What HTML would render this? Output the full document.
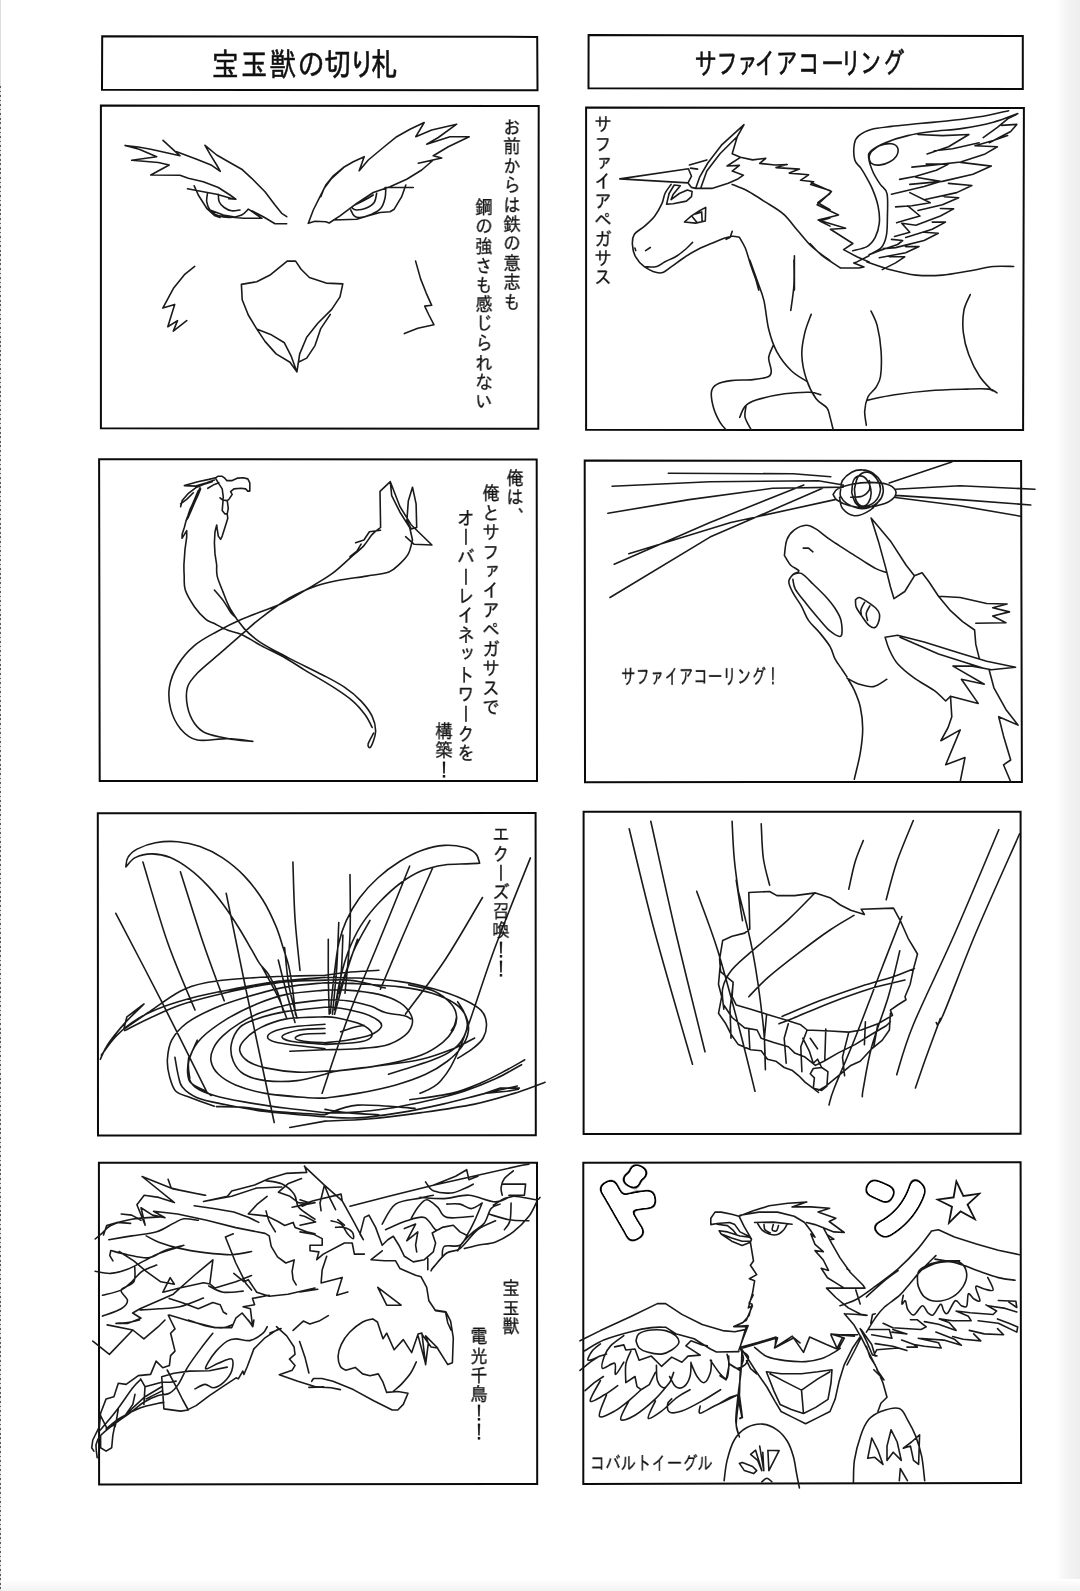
<!DOCTYPE html>
<html lang="ja">
<head>
<meta charset="utf-8">
<title>宝玉獣の切り札 / サファイアコーリング</title>
<style>
html,body{margin:0;padding:0;background:#fff;}
body{width:1080px;height:1591px;position:relative;overflow:hidden;font-family:"Liberation Sans","IPAGothic","Noto Sans CJK JP",sans-serif;color:#111;}
#page{position:absolute;left:0;top:0;width:1080px;height:1591px;}
svg{position:absolute;left:0;top:0;will-change:transform;}
.frames polygon{fill:none;stroke:#0a0a0a;stroke-width:2;stroke-linejoin:miter;}
.art path{fill:none;stroke:#1a1a1a;stroke-width:1.6;stroke-linecap:round;stroke-linejoin:round;}
.v{position:absolute;writing-mode:vertical-rl;text-orientation:upright;white-space:nowrap;font-size:18px;line-height:20px;width:20px;letter-spacing:0.1px;color:#151515;margin:0;transform:scale(0.96,1.06);transform-origin:50% 0;-webkit-text-stroke:0.3px #151515;will-change:transform;}
.h{position:absolute;white-space:nowrap;font-size:19px;line-height:20px;color:#151515;margin:0;transform-origin:0 0;-webkit-text-stroke:0.3px #151515;will-change:transform;}
.ttl{font-family:"Liberation Sans","IPAGothic","Noto Sans CJK JP",sans-serif;fill:#111;stroke:#111;stroke-width:.55;}
.sfx .s{fill:#111;}
.edge{position:absolute;left:0;top:86px;width:1.3px;height:1505px;background:repeating-linear-gradient(180deg,#5a5a5a 0,#5a5a5a 1.7px,#e2e2e2 1.7px,#e2e2e2 4.55px);}
.edgeT{position:absolute;left:0;top:0;width:1.3px;height:86px;background:#dcdcdc;}
.edgeB{position:absolute;left:0;bottom:0;width:1080px;height:12px;background:linear-gradient(180deg,#fff,#f3f3f3);}
.edgeR{position:absolute;right:0;top:0;width:24px;height:1591px;background:linear-gradient(90deg,#fff,#f4f4f4 45%,#eee);}
</style>
</head>
<body>
<div id="page">
<div class="edgeR"></div><div class="edgeB"></div><div class="edgeT"></div><div class="edge"></div>
<svg width="1080" height="1591" viewBox="0 0 1080 1591">
<g class="frames"><polygon points="102.2,36.3 537.2,36.9 537.5,90.2 102,89.8"/><polygon points="588.6,35 1022.8,36.1 1022.8,89.1 588.5,88.3"/><polygon points="100.9,105.6 538.7,106.1 538.3,428.7 100.9,428.3"/><polygon points="586.1,107.4 1023.9,108.1 1023.1,430 586.1,429.8"/><polygon points="99.1,459.2 536.7,459.4 537,781.1 99.7,781.1"/><polygon points="584.7,460.6 1021.1,460.9 1021.9,782 585,782.2"/><polygon points="97.8,813.3 535.6,813 535.8,1135.2 98,1135.6"/><polygon points="583.6,811.7 1020.6,811.7 1020.6,1133.7 583.6,1134.1"/><polygon points="98.9,1162.8 537,1162.8 537.2,1484.1 99.1,1484.4"/><polygon points="583.3,1162.8 1020.6,1162.2 1021.1,1483.1 583.3,1483.9"/></g>
<g class="art"><path d="M163 140.3L180 155.8L150.8 149.2L138.3 147L125 145.5L139.2 149.2L156.7 156.7L131.7 160.3L158.3 162.5L169.2 165L150.8 175L180 175.3L188.3 178.3L203.3 181.7L218.3 187.5L230 195L235.8 199.2L228.7 198.8M176.7 151.7L196.7 159.2L211.7 165.3L220.3 171.3L216.7 165L210 154.2L205 145.3L216.7 155L226.7 160.8L241.7 169.2L251.7 178.3L265 191.7L275 205L281.7 213.3L286.7 216.7M187.5 188.8L203.3 191.7L216.7 194.2L234.2 199.2M194.2 185.8L198.3 195L206.7 208.3L215 215.8L220 217.5M215 215.3L226.7 216.7L243.3 218.3L262 218.3L249.2 209.7M251.7 210.8L263.3 216.7L275 223.7L286.7 223.7M207.5 193.3C207.4 194.7 206.3 198.9 206.7 201.7C207.1 204.4 208.1 207.6 210 210C211.9 212.4 215 214.6 218.3 215.8C221.7 217.1 226.1 217.6 230 217.5C233.9 217.4 238.6 216.4 241.7 215C244.7 213.6 247.2 210.1 248.3 209.2M218.3 194.2C218.5 195.4 218.2 199.4 219.2 201.7C220.1 203.9 222.1 206 224.2 207.5C226.3 209 229 210.4 231.7 210.8C234.3 211.2 238.6 210.1 240 210M210 210L223.3 215L233.3 216.7M308.3 223.3L313.3 210L320 196.7L325.8 185L333.3 175.8L343.3 167.5L353.3 161.7L364.2 156.7L359.2 170.8L368.3 160L383.3 147.5L396.7 136.7L410 129.2L424.2 122.5L415.8 136.7L431.7 130L456.7 124.2L438.3 137.5L426.7 144.2L450 136.7L469.2 136.7L448.3 146.7L433.3 155.8L441.7 158L418.3 163.3L433.3 160L421.7 170L406.7 179.2L390 186.7L373.3 192.5L356.7 203.3L340 215.8L329.2 223L325.8 221.7L315 221.3L308.3 223.3M343.3 168L331.7 178.3L324.2 188.3L320.8 196.7M385 187.5L413.3 187.5M385.8 188.3C385.7 190 385.8 195 385 198.3C384.2 201.7 383.1 205.7 380.8 208.3C378.6 211 375.1 212.6 371.7 214.2C368.2 215.7 362.9 217.2 360 217.5C357.1 217.8 355.7 217.1 354.2 215.8C352.6 214.6 351.4 211 350.8 210M405.8 185L401.7 196.7L394.2 209.2L390 211.7L380 212.5L368.3 215.8L356.7 219.2L333.3 220M376.7 193.3C376.2 194.9 376 200 374.2 202.5C372.4 205 368.8 207.1 365.8 208.3C362.9 209.6 358.9 210 356.7 210C354.4 210 353.1 209 352.5 208.3C351.9 207.6 351.5 207.1 353.3 205.8C355.1 204.6 360 202.6 363.3 200.8C366.7 199 371.7 196 373.3 195M194.7 266.4L184.4 274.7L173.3 288.6L162.8 308.1L174.7 304.4L167.8 326.7L177.5 320.6L173.3 331.1L186.7 320.6M241.4 284.4L256.7 281.7L270.6 274.7L278.9 267.8L287.2 261.1L295.6 261.1L301.1 269.2L309.4 277.5L326.1 283.1L342.8 283.9L340 296.9L331.7 309.4L317.8 323.3L306.7 337.2L299.7 353.9L296.9 371.9L291.4 356.7L284.4 342.8L270.6 334.4L256.7 328.9L248.3 315L242.2 299.7L241.4 284.4M256.7 328.9L265 341.4L276.1 353.9L290 362.2L296.9 371.9M330.3 314.4L320.6 328.9L315 345.6L306.7 358.1L298.3 362.2M415.6 261.1L420.6 278.9L426.1 292.8L431.7 305.3L424.7 306.1L428.9 315L433.9 324.7L417.8 328.3L404.4 333.6M688 182.9L619.8 178.9L688.4 168.7L691.5 176.2L688 182.9L691.5 187.4L695.6 188.4M689.4 165L706.8 159.9M690.5 168.1L697.6 169.1M695.6 188.4L699.6 177.2L707.8 163L722 144.6L744 124.7L737.3 136.5L732.2 153.8L740.4 157.3L727.1 166L739.4 165.4L732.2 171.1L743.4 175.2L737.3 179.3L728.2 183.3L711.9 188.4L695.6 188.4M737.3 136.5L720 153.8L706.8 171.1L700.6 188.4M740.4 157.3L752.6 159.9L765.8 158.3L759.7 163.4L775 165L787.2 164.6L776 167.6L799.4 169.1L789.3 173.1L808.6 174.8L800.5 180.3L813.7 181.7L810.7 184.4L830 190.5M732.2 184.4C734.9 185.5 743.1 188.6 748.5 191.5C754 194.4 759 197.9 764.8 201.7C770.6 205.4 777.7 209.1 783.2 213.9C788.6 218.6 792.7 224.8 797.4 230.2C802.2 235.6 806.2 241.4 811.7 246.5C817.1 251.6 826.9 258.4 830 260.7M671.1 184.4C670.1 185.9 666.5 190.3 665 193.5C663.5 196.7 663.6 200 661.9 203.7C660.2 207.4 657.7 212.2 654.8 215.9C651.9 219.7 648 223.1 644.6 226.1C641.2 229.2 636.5 231.2 634.4 234.3C632.4 237.3 632.2 240.7 632.4 244.4C632.6 248.2 633.4 252.9 635.5 256.7C637.5 260.4 640.6 264.1 644.6 266.9C648.7 269.6 655.5 273 659.9 273C664.3 273 666.9 269.6 671.1 266.9C675.4 264.1 680.6 259.7 685.4 256.7C690.1 253.6 694.9 250.9 699.6 248.5C704.4 246.1 709.8 244.1 713.9 242.4C718 240.7 721 239.4 724.1 238.3C727.1 237.3 729.7 236.5 732.2 236.3C734.8 236.1 738.2 237.1 739.4 237.3M666.6 204.1L669.1 193.5L674.2 185L680.3 185.8L673.1 194.5L671.1 199.6L679.3 193.5L687.4 190.1L692.1 191.5L691.5 196.6L686.4 201.1L673.1 203.7L666.6 204.1M684.4 222L691.5 215.9L699.6 210.8L705.7 207.4L705.3 221L695.6 223.1L684.4 222M692.5 216.9L696.6 222M695.6 213.9L701.7 211.9L702.1 221M645.6 266.9C647.5 266.8 653.6 267.3 656.9 266.4C660.1 265.6 661.6 263.6 665 261.8C668.4 260 673.7 257.9 677.2 255.7C680.8 253.4 683.8 250.7 686.4 248.5C688.9 246.3 691.5 243.4 692.5 242.4M645.6 250.6L650.3 247.5M634.9 248.1L635.7 250.6M732.2 231.2L730.2 237.3L726.1 239.4M739.4 237.3C740.4 239.2 743.6 243.9 745.5 248.5C747.3 253.1 748.9 259.7 750.6 264.8C752.3 269.9 754.3 274.9 755.7 279.1C757 283.3 758.2 288.2 758.7 290.1M794.4 255.7L794.4 290.1M830 193.5L817.8 202.7L830 209.8M830 218L819.8 221L830 226.1M1008.6 110.7C1004.4 111.6 992.5 114.6 983.2 116.2C973.8 117.8 962.8 119.1 952.6 120.3C942.4 121.5 932.2 122.3 922 123.3C911.9 124.4 900 125.4 891.5 126.4C883 127.4 876.5 127.9 871.1 129.4C865.7 131 861.7 133.2 858.9 135.6C856.1 137.9 855.1 139.6 854.4 143.7C853.7 147.8 853.7 155.9 854.8 160C855.9 164.1 858.9 165.1 860.9 168.1C863 171.2 865 174.6 867 178.3C869.1 182.1 871.3 185.8 873.1 190.6C875 195.3 877.2 201.4 878.2 206.9C879.3 212.3 879.8 218.1 879.3 223.2C878.8 228.2 877.2 233.5 875.2 237.4C873.1 241.3 870.8 244.4 867 246.6C863.3 248.8 855.2 250 852.8 250.7M1017.8 113.6C1013.7 115 1002.5 119.8 993.3 122.3C984.2 124.8 973 126.9 962.8 128.4C952.6 130 941.4 130.3 932.2 131.5C923.1 132.7 915.6 133.7 907.8 135.6C900 137.4 891.5 140.1 885.4 142.7C879.3 145.2 873.9 148.3 871.1 150.8C868.3 153.4 868.3 154.4 868.7 158C869 161.5 871.2 167.8 873.1 172.2C875.1 176.6 878 180.9 880.3 184.4C882.6 188 885.8 188.2 887 193.6C888.2 199 887.5 210.1 887.4 217C887.3 224 887.4 230.3 886.4 235.4C885.4 240.5 884.2 244.4 881.3 247.6C878.4 250.8 871.1 253.5 869.1 254.7M871.1 151.9C872.5 150.8 875.9 147.1 879.3 145.7C882.7 144.4 888.4 143.4 891.5 143.7C894.5 144 896.7 145.7 897.6 147.8C898.4 149.8 897.9 153.6 896.6 155.9C895.2 158.3 892.3 160.5 889.4 162C886.6 163.6 882.3 164.9 879.3 165.1C876.2 165.3 872.8 164.4 871.1 163.1C869.4 161.7 869.1 158.8 869.1 156.9C869.1 155.1 870.8 152.7 871.1 151.9M918 134.5L942.4 135.6L968.9 134.5L948.5 146.8L927.1 153.9M983.2 137.6L997.4 127.4L1008.6 118.2L1016.8 114.2M1001.5 125.4L1016.8 124.4L1010.7 131.5L989.3 142.7M1007.6 135.6L993.3 140.6L975 145.7L997.4 146.8L985.2 153.9L960.7 162L932.2 165.1L911.9 167.1M934.3 150.8L952.6 148.8L979.1 142.7M960.7 162.4L991.3 166.1L973 174.3L942.4 181.4L909.8 184.4M926.1 164.1L948.5 164.1L936.3 170.2L915.9 176.3L899.6 179.4M915.9 177.3L940.4 181.4L924.1 186.5L891.5 194.2M948.5 183.4L971.9 185.5L956.7 192.6L924.1 199.7M909.8 192.6L930.2 202.8L911.9 205.8L895.6 206.9M944.4 196.7L958.7 197.7L942.4 204.8L918 210.5M907.8 205.8L920 216L905.7 220.1L896.6 222.7M940.4 208.5L953.6 208.9L940.4 216L915.9 225.2L901.7 223.2L909.8 232.3L894.5 236.4M932.2 222.1L945.5 222.1L932.2 229.3L905.7 237.4M924.1 232.3L938.3 233.3L924.1 240.5L895.6 247.6L883.3 248.6M891.5 239.4L902.7 240.5L897.6 244.5L879.3 250.7L869.1 254.7M905.7 246.6L919 246.6L905.7 252.7L879.3 257.8M889.4 256.8L904.7 256.8L895.6 262.9L882.3 269.6M869.1 255.7L856.9 261.9L853.8 262.9L864 266.9L858.9 268L840.6 268M810 181.4L813.1 183.4L831.4 191.6L817.1 204.8L838.5 215L818.1 220.1L845.6 228.2L830.4 229.3L852.8 243.5L843.6 249.6L856.9 256.8L869.1 261.9M810 243.5C812 245.6 817.1 251.7 822.2 255.7C827.3 259.8 837.5 265.9 840.6 268M867 261.9C871.1 263.2 883.3 267.8 891.5 270C899.6 272.2 907.4 274.2 915.9 275.1C924.4 275.9 933.6 275.8 942.4 275.1C951.2 274.4 960.4 272.4 968.9 271C977.4 269.6 985.9 267.3 993.3 266.5C1000.8 265.8 1010.3 266.5 1013.7 266.5M749.8 260C751.1 263.7 755.3 275.2 757.7 282C760.1 288.9 762.2 293.1 764 300.9C765.8 308.8 766.6 320.9 768.7 329.3C770.8 337.7 772.9 344.5 776.6 351.3C780.3 358.1 785.8 365.2 790.8 370.2C795.7 375.2 803.9 379.4 806.5 381.2M793.9 260C793.9 264.2 794.4 276.8 793.9 285.2C793.4 293.6 791.3 306.2 790.8 310.4M811.2 314.2C810.2 317.2 806.5 325.7 804.9 332.4C803.4 339.1 801.5 346.6 801.8 354.5C802 362.3 804.1 372.3 806.5 379.6C808.9 387 812.5 393.8 815.9 398.5C819.4 403.3 824.6 404.8 827 408C829.3 411.1 829.1 413.8 830.1 417.4C831.2 421.1 832.7 427.9 833.3 430M871 311C872.1 313.5 875.7 319.4 877.3 326.1C879 332.8 880.6 342.9 881.1 351.3C881.6 359.7 881.4 370.5 880.5 376.5C879.6 382.5 877.9 384.1 875.8 387.5C873.7 390.9 869.7 393 867.9 397C866.1 400.9 865 406.4 864.7 411.1C864.5 415.9 866.1 422.9 866.3 425.3M867.9 400.1C872.4 399.2 884.4 396.3 894.7 394.8C904.9 393.2 917.2 391.6 929.3 390.7C941.4 389.7 957.1 389.4 967.1 389.1C977 388.8 984.1 388.5 989.1 389.1C994.1 389.7 995.7 392.2 997 392.9M970.2 294.6C969.2 297.3 965.1 304.1 963.9 310.4C962.8 316.7 962.5 325.1 963.3 332.4C964.1 339.8 965.9 347.1 968.7 354.5C971.4 361.8 975.7 370.5 979.7 376.5C983.6 382.5 990.2 388.3 992.3 390.7M773.4 345C772.7 347.1 769.1 353.4 768.7 357.6C768.3 361.8 771.2 367.1 771.2 370.2C771.2 373.4 771.8 374.9 768.7 376.5C765.7 378.1 759.3 379 753 379.6C746.7 380.3 737 379.8 730.9 380.6C724.9 381.4 720 382.4 716.8 384.4C713.5 386.3 711.9 388.3 711.4 392.2C710.9 396.2 712.2 403 713.6 408C715 413 717.8 418.5 719.9 422.2C722 425.8 725.2 428.7 726.2 430M820.7 394.8C818.8 394.3 815.7 392.4 809.6 392.2C803.6 392.1 793.4 392.5 784.5 393.8C775.5 395.1 762.7 398 756.1 400.1C749.6 402.2 747.8 403.5 745.1 406.4C742.4 409.3 740.6 415.6 739.7 417.4M746 406.4C745.9 408.2 744.2 413.5 745.1 417.4C746 421.4 750.3 427.9 751.4 430M216.7 565C216.8 566.9 216.2 571.7 217.2 576.1C218.2 580.5 220.6 585.8 222.8 591.4C225 596.9 226.9 603.2 230.6 609.4C234.2 615.7 239.4 623.3 244.4 628.9C249.5 634.4 253.7 637.9 261.1 642.8C268.5 647.6 278.7 652.7 288.9 658.1C299.1 663.4 313 669.9 322.2 674.7C331.5 679.6 338 682.8 344.4 687.2C350.9 691.6 356.5 696.2 361.1 701.1C365.7 706 369.8 711.3 372.2 716.4C374.6 721.5 375.8 726.6 375.6 731.7C375.3 736.8 372.1 744.9 370.8 746.9C369.6 749 367.6 746.5 368.1 744.2C368.5 741.9 372.7 734.9 373.6 733.1M183.9 565C183.9 566.9 183.9 571.9 184.2 576.1C184.4 580.3 183.6 584.9 185.3 590C187 595.1 191.1 601.8 194.4 606.7C197.8 611.5 202.3 616.4 205.6 619.2C208.8 621.9 210.2 621.5 213.9 623.3C217.6 625.2 223.1 628.4 227.8 630.3C232.4 632.1 236.1 631.9 241.7 634.4C247.2 637 254.2 641.9 261.1 645.6C268.1 649.3 275.9 652.5 283.3 656.7C290.7 660.8 297.2 665.5 305.6 670.6C313.9 675.6 325.5 682.1 333.3 687.2C341.2 692.3 347.5 696.5 352.8 701.1C358.1 705.7 362 710.6 365.3 715C368.5 719.4 371.1 725.4 372.2 727.5M214.4 590C216 591.9 220.9 597.4 223.6 601.1C226.3 604.8 228.5 609.4 230.6 612.2C232.6 615 235.2 616.9 236.1 617.8M252.8 741.4C248.6 740.9 237 738.8 227.8 738.6C218.5 738.4 205.1 741.6 197.2 740C189.4 738.4 185 734 180.6 728.9C176.2 723.8 172.7 716.4 170.8 709.4C169 702.5 168.3 694.6 169.4 687.2C170.6 679.8 173.6 671.9 177.8 665C181.9 658.1 188 651.1 194.4 645.6C200.9 640 208.8 636.1 216.7 631.7C224.5 627.3 231 623.8 241.7 619.2C252.3 614.5 269.9 608.8 280.6 603.9C291.2 599 297.2 594.9 305.6 590C313.9 585.1 323.1 580 330.6 574.7C338 569.4 344.4 562.9 350 558.1C355.6 553.2 360.2 549.5 363.9 545.6C367.6 541.6 369.4 537.5 372.2 534.4C375 531.4 379.2 528.7 380.6 527.5M380.6 527.5L380 491.4L390.3 481.7L391.7 495.6L400 512.2L409.7 527.5L412.5 540M412.5 540C411.8 542.3 410.4 550 408.3 553.9C406.2 557.8 403.2 560.6 400 563.6C396.8 566.6 394.4 569.9 388.9 571.9C383.3 574 375 574.7 366.7 576.1C358.3 577.5 347.2 578.7 338.9 580.3C330.6 581.9 325 582.8 316.7 585.8C308.3 588.8 298.1 593 288.9 598.3C279.6 603.7 269 611.8 261.1 617.8C253.2 623.8 248.6 628.4 241.7 634.4C234.7 640.5 226.9 647.4 219.4 653.9C212 660.4 202.5 667.8 197.2 673.3C191.9 678.9 189.1 681.7 187.5 687.2C185.9 692.8 186.3 700.6 187.5 706.7C188.7 712.7 191.4 718.9 194.4 723.3C197.5 727.7 200 730.5 205.6 733.1C211.1 735.6 219.9 737.2 227.8 738.6C235.6 740 248.6 740.9 252.8 741.4M355.6 542.8L363.9 540L369.4 531.7L380.6 530.3M350 556.7L356.9 551.1L361.1 544.2M390.3 481.7L400 506.7L411.1 524.7L431.9 545L413.9 544.2L405.6 536.7M412.5 487.2L408.3 501.1L406.9 520.6L411.1 528.9L416.7 527.5L416.1 503.9L412.5 487.2M668.3 473.3L793.3 473.8L830.8 476.7M612.1 486.2L710 481.7L818.3 480.8L843.3 485M607.9 513.3L689.2 499.6L772.5 488.3L843.3 487.1M614.2 564.2L710 522.5L803.8 485M628.8 553.8L730.8 522.5L835 499.6M610 597.5L710 537.1L822.5 488.3M889.2 482.9L951.7 462.1M895.4 489.2L960 485.8L1035 489.2M895.4 495.4L960 499.6L1030.8 505M895.4 497.5L960 505.8L1020.4 516.2M840.6 489.8C840.9 488.2 840.6 483.5 842.4 480.5C844.3 477.6 848.4 474 851.7 472.2C854.9 470.4 858.3 469.7 861.9 469.9C865.4 470 869.7 471 873 473.1C876.2 475.2 879.6 479.1 881.3 482.4C883 485.6 883.6 489.3 883.1 492.6C882.7 495.8 880.8 499.3 878.5 501.8C876.2 504.3 872.7 506.3 869.3 507.4C865.9 508.5 861.9 508.9 858.1 508.3C854.4 507.7 850 505.7 847 503.7C844.1 501.7 841.6 498.6 840.6 496.3C839.5 493.9 840.6 490.9 840.6 489.8M833.1 494.4C833.9 493.5 834.7 490.5 837.8 488.9C840.9 487.2 846.3 485.3 851.7 484.2C857.1 483.1 864.3 482.4 870.2 482.4C876 482.4 882.7 483 886.9 484.2C891 485.5 894 487.6 895.2 489.8C896.4 491.9 896.1 494.9 894.3 497.2C892.4 499.5 888.9 502 884.1 503.7C879.3 505.4 871.4 507.1 865.6 507.4C859.7 507.7 853.7 506.8 848.9 505.5C844.1 504.3 839.5 501.8 836.9 500C834.2 498.1 833.8 495.3 833.1 494.4M851.7 492.6C852 490.5 852.1 483.3 853.5 480.5C854.9 477.7 857.7 475.9 860 475.9C862.3 475.9 865.6 477.7 867.4 480.5C869.3 483.3 871 488.9 871.1 492.6C871.3 496.3 869.9 500.4 868.3 502.7C866.8 505.1 864 506.4 861.9 506.4C859.7 506.4 857.1 505.1 855.4 502.7C853.7 500.4 852.3 494.3 851.7 492.6M854.4 488.9C855.1 486.8 856 479.6 858.1 476.8C860.3 474 864.3 471.9 867.4 472.2C870.5 472.5 874.5 475.7 876.7 478.7C878.8 481.6 880.7 485.9 880.4 489.8C880.1 493.6 877.6 499 874.8 501.8C872 504.6 866.8 506.6 863.7 506.4C860.6 506.3 857.8 503.8 856.3 500.9C854.8 498 854.8 490.9 854.4 488.9M839.6 497.2C840.1 499 839.9 505.2 842.4 508.3C844.9 511.4 849.8 515.4 854.4 515.7C859.1 516 865.9 512.9 870.2 510.1C874.5 507.4 878.7 500.9 880.4 499M850.7 497.2C852.6 497 858.8 497.5 861.9 496.3C864.9 495 868 492.4 869.3 489.8C870.5 487.2 869.3 482.1 869.3 480.5M784.4 555.4C784.8 552.8 785.2 543.9 786.9 539.7C788.5 535.5 790.9 532.5 794.1 530.1C797.3 527.7 802.5 525.5 806.1 525.3C809.7 525.1 811.7 526.5 815.7 528.9C819.8 531.3 825 536.1 830.2 539.7C835.4 543.3 841.4 546.9 847 550.6C852.7 554.2 859.1 558.4 863.9 561.4C868.7 564.4 872.3 566.8 875.9 568.6C879.5 570.4 883.9 571.6 885.6 572.2M784.4 555.4C785.4 557 788.1 562.4 790.5 565C792.9 567.6 798.5 569.4 798.9 571C799.3 572.6 794.6 572.8 792.9 574.6C791.2 576.4 788.8 578.8 788.8 581.8C788.8 584.9 790.8 588.7 792.9 592.7C795 596.7 798.7 601.3 801.3 605.9C803.9 610.5 805.5 616 808.5 620.4C811.5 624.8 815.7 628 819.4 632.4C823 636.8 827.6 642.4 830.2 646.8C832.8 651.3 833 655.1 835 658.9C837 662.7 840.2 666.7 842.2 669.7C844.2 672.7 846.2 675.7 847 676.9M792.9 574.6C794.3 574.4 797.9 571.8 801.3 573.4C804.7 575 809.3 580.4 813.3 584.3C817.3 588.1 821.8 592.3 825.4 596.3C829 600.3 832.4 604.3 835 608.3C837.6 612.3 840 615.8 841 620.4C842 625 842.8 634.2 841 636C839.2 637.8 834 634.2 830.2 631.2C826.4 628.2 822.2 622.6 818.1 618C814.1 613.3 809.9 608.3 806.1 603.5C802.3 598.7 797.5 593.1 795.3 589.1C793.1 585.1 793.3 581 792.9 579.4M803.2 548.1L808.5 548.1L812.9 551.8M871.1 518.1L878.3 540.9L885.6 567.4L890.4 586.7L894 598.7L904.8 591.5L914.4 575.8L906 565L890.4 540.9L871.1 518.1M914.4 575.8L922.1 572.7L928.9 581.8L938.5 596.3L950.5 610.7L962.6 621.6L974.6 630L975.8 644.4L979.4 658.9M855.5 599.9C856.1 599.5 857.3 597.3 859.1 597.5C860.9 597.7 863.5 599.3 866.3 601.1C869.1 602.9 873.7 606.1 875.9 608.3C878.1 610.5 879.1 611.9 879.5 614.3C879.9 616.8 879.1 620.6 878.3 622.8C877.5 625 876.3 627.2 874.7 627.6C873.1 628 870.9 627.2 868.7 625.2C866.5 623.2 863.6 618.6 861.5 615.6C859.4 612.5 857.2 609.7 856.2 607.1C855.2 604.5 855.6 601.1 855.5 599.9M864.6 602.3C864 603.5 861.5 607.3 861 609.5C860.5 611.7 861.4 614.5 861.5 615.6M869.9 605.9C869.3 607.1 866.7 610.7 866.3 613.1C865.9 615.6 867.3 619.2 867.5 620.4M885.1 637.2L897.6 635.3L924.1 642L962.6 654.1L986.7 661.3L1015.5 667.3L991.5 669.7L972.2 666.1L953 666.1M900 637.2L938.5 654.1L984.3 668.5M885.1 637.2C885.8 639.2 887.1 644.8 889.2 649.3C891.2 653.7 893.4 658.9 897.6 663.7C901.8 668.5 908.4 673.7 914.4 678.1C920.5 682.6 928.5 686.4 933.7 690.2C938.9 694 943.7 699.2 945.7 701M945.7 701L950.5 696.2M953 666.1L984.3 684.2L961.4 679.3L978.2 703.4L950.5 696.2L951.8 716.7L948.1 727.5L940.9 740.7L960.2 729.9L945.7 764.8L965 757.6L960.2 781.7M989.1 669.7L993.9 687.8L1005.9 709.4L1018 725.1L998.7 716.7L1003.5 735.9L1010.7 760L1003.5 764.8L1010.7 781.7M938.5 596.3L960.2 597.5L986.7 603.5L1007.1 604L992.7 607.8L1009.5 611.9L992.7 616L1005.9 622.8L975.8 623.3M848.2 679.3C849.2 681.2 852.3 685.6 854.3 690.2C856.3 694.8 858.9 700.6 860.3 707C861.7 713.4 862.7 721.1 862.7 728.7C862.7 736.3 861.7 744.3 860.3 752.8C858.9 761.2 855.3 774.8 854.3 779.2M847 678.1C849 679.1 854.7 682.8 859.1 684.2C863.5 685.6 868.9 687.4 873.5 686.6C878.1 685.8 884.5 680.5 886.8 679.3M115.8 913.3C123.5 928.1 146.4 971.7 161.7 1001.7C176.9 1031.7 199.9 1078.1 207.5 1093.3M142.9 862.1C147.1 875.6 159.2 918.7 167.9 943.3C176.6 968 190.5 998.9 195 1010M180.4 871.7C184.2 883.6 196 921.8 203.3 943.3C210.6 964.9 220.7 991.2 224.2 1000.8M226.2 893.3C229.4 908.6 237 946.8 245 985C253 1023.2 269.3 1099.6 274.2 1122.5M292.9 862.1C293.3 871.5 293.8 900.3 295 918.3C296.2 936.4 299.2 961.7 300 970.4M350 874.6C350 884.7 350.8 915.2 350 935C349.2 954.8 345.8 983.6 345 993.3M409.6 866.2C404.4 879.1 388.4 918.7 378.3 943.3C368.3 968 358.5 989.2 349.2 1014.2C339.8 1039.2 326.6 1080.1 322.1 1093.3M432.5 868.3C427.6 879.4 412 914.9 403.3 935C394.7 955.1 384.2 980.1 380.4 989.2M482.5 897.5C476.2 907.9 457.8 940.6 445 960C432.2 979.4 412 1005.1 405.4 1014.2M530.4 857.9C524.5 872.8 506.5 916.6 495 947.5C483.5 978.4 470.7 1021.1 461.7 1043.3C452.6 1065.6 447.8 1072.5 440.8 1080.8C433.9 1089.2 423.5 1091.3 420 1093.3M284.6 947.5C285.3 953.8 286.7 973.2 288.8 985C290.8 996.8 295.7 1012.8 297.1 1018.3M278.3 960C279.7 965.6 283.9 982.9 286.7 993.3C289.4 1003.8 293.6 1017.6 295 1022.5M261.7 966.2C264.4 971.5 274.2 988.8 278.3 997.5C282.5 1006.2 285.3 1014.9 286.7 1018.3M328.3 939.2C328.3 945.4 328.2 964.2 328.3 976.7C328.5 989.2 329 1007.9 329.2 1014.2M338.8 922.5C338.4 930.1 337.7 953.1 336.7 968.3C335.6 983.6 333.2 1006.5 332.5 1014.2M357.5 939.2C355.4 945.4 348.8 964.2 345 976.7C341.2 989.2 336.3 1007.9 334.6 1014.2M370 920.4C367.2 925.6 358.5 939.5 353.3 951.7C348.1 963.8 341.2 986.4 338.8 993.3M342.9 935C342.6 941.9 342.2 964.2 340.8 976.7C339.4 989.2 335.6 1004.4 334.6 1010M100.3 1059.3C101.6 1056.9 103.7 1050.5 107.8 1044.4C111.9 1038.4 118.8 1029.9 124.8 1023.1C130.8 1016.4 140.8 1007.2 144 1004M144 1004L126.9 1016.8L123.7 1029.5M123.7 1029.5C127.8 1026.7 138.8 1018.9 148.2 1012.5C157.6 1006.1 170.6 996.2 180.2 991.2C189.8 986.2 195.1 984.8 205.7 982.7C216.4 980.6 230.6 979.5 244.1 978.4C257.5 977.4 273.2 976.8 286.7 976.3C300.1 975.8 318.6 975.4 325 975.2M101.4 1055.1C103.9 1051.9 110.3 1042 116.3 1035.9C122.3 1029.9 129.4 1023.9 137.6 1018.9C145.8 1013.9 155.3 1009.8 165.3 1006.1C175.2 1002.4 185.9 999.4 197.2 996.5C208.6 993.7 220.3 991.6 233.4 989.1C246.5 986.6 260.7 983.6 276 981.6C291.3 979.7 316.8 978.1 325 977.4M124.8 1030.6C129.4 1028.3 143.3 1021 152.5 1016.8C161.7 1012.5 169.9 1008.6 180.2 1005C190.5 1001.5 202.2 998.5 214.3 995.5C226.3 992.4 240.5 989.2 252.6 986.9C264.6 984.6 274.6 982.8 286.7 981.6C298.7 980.5 318.6 980.4 325 980.1M325 982.7C318.6 983.4 299.4 984.6 286.7 986.9C273.9 989.2 260.4 993 248.3 996.5C236.3 1000.1 224.5 1003.8 214.3 1008.2C204 1012.7 193.7 1017.8 186.6 1023.1C179.5 1028.5 174.9 1034.1 171.7 1040.2C168.5 1046.2 167.8 1053.3 167.4 1059.3C167 1065.4 168.1 1071.1 169.5 1076.4C171 1081.7 172.4 1087.7 175.9 1091.3C179.5 1094.8 184.4 1095.2 190.8 1097.7C197.2 1100.2 210.3 1104.8 214.3 1106.2M325 990.1C318.6 990.8 298 992.1 286.7 994.4C275.3 996.7 266.8 999.9 256.8 1004C246.9 1008.1 236.3 1013.2 227 1018.9C217.8 1024.6 207.7 1031.7 201.5 1038C195.3 1044.4 191.9 1050.8 189.8 1057.2C187.6 1063.6 187.8 1071.4 188.7 1076.4C189.6 1081.3 190.8 1083.8 195.1 1087C199.3 1090.2 206.1 1093.1 214.3 1095.5C222.4 1098 232 1099.8 244.1 1101.9C256.1 1104.1 273.2 1106.5 286.7 1108.3C300.1 1110.1 318.6 1111.9 325 1112.6M174.9 1057.2C175.4 1060.1 176.8 1069.3 178 1074.3C179.3 1079.2 179.1 1083.1 182.3 1087C185.5 1090.9 190.5 1094.8 197.2 1097.7C204 1100.5 211.4 1101.8 222.8 1104.1C234.1 1106.4 248.3 1109.4 265.4 1111.5C282.4 1113.6 315 1116 325 1116.8M325 999.7C319.3 1000.4 301.6 1001.8 290.9 1004C280.3 1006.1 269.6 1009.3 261.1 1012.5C252.6 1015.7 246.2 1019.2 239.8 1023.1C233.4 1027 227.2 1031.7 222.8 1035.9C218.3 1040.2 215.1 1044.4 213.2 1048.7C211.2 1053 210.2 1057.2 211.1 1061.5C211.9 1065.7 214.4 1070.3 218.5 1074.3C222.6 1078.2 227.7 1081.7 235.5 1084.9C243.4 1088.1 253.3 1091.3 265.4 1093.4C277.4 1095.5 298 1096.9 307.9 1097.7C317.9 1098.5 322.1 1098 325 1098.1M325 1007.2C318.6 1007.9 298 1009.5 286.7 1011.4C275.3 1013.4 264.6 1016.2 256.8 1018.9C249 1021.5 244.1 1023.1 239.8 1027.4C235.5 1031.7 232.4 1038.8 231.3 1044.4C230.2 1050.1 231.3 1056.5 233.4 1061.5C235.5 1066.4 238.7 1071.1 244.1 1074.3C249.4 1077.4 256.5 1079.6 265.4 1080.6C274.2 1081.7 287.4 1081.7 297.3 1080.6C307.2 1079.6 320.4 1075.3 325 1074.3M325 1016.8C318.6 1017.1 297.3 1017.1 286.7 1018.9C276 1020.7 268.2 1023.9 261.1 1027.4C254 1031 247.6 1036.3 244.1 1040.2C240.5 1044.1 239.1 1047.3 239.8 1050.8C240.5 1054.4 244.1 1058.6 248.3 1061.5C252.6 1064.3 257.2 1066.1 265.4 1067.9C273.5 1069.6 287.4 1071.6 297.3 1072.1C307.2 1072.7 320.4 1071.2 325 1071.1M325 1024.2C320.4 1024.6 305.5 1025.3 297.3 1026.3C289.1 1027.4 281 1028.8 276 1030.6C271 1032.4 267.5 1035 267.5 1037C267.5 1038.9 271 1040.9 276 1042.3C281 1043.7 289.1 1044.4 297.3 1045.5C305.5 1046.6 320.4 1048.2 325 1048.7M325 1028.5C320.7 1028.7 306.5 1028.7 299.4 1030C292.3 1031.2 283.8 1034 282.4 1035.9C281 1037.8 283.8 1039.8 290.9 1041.2C298 1042.7 319.3 1043.9 325 1044.4M325 1033.4C321.4 1033.5 308.7 1033.4 303.7 1034.2C298.7 1035 295.2 1036.9 295.2 1038C295.2 1039.2 298.7 1040.5 303.7 1041.2C308.7 1042 321.4 1042.5 325 1042.7M289.8 1051.3L325 1049.8M216.4 1106.6C221 1106.7 234.1 1106.4 244.1 1107.3C254 1108.1 262.5 1110.3 276 1111.5C289.5 1112.8 316.8 1114.2 325 1114.7M289.8 1127.5L325 1121.1M188.7 1057.2C188.5 1059.7 187.3 1067.9 187.6 1072.1C188 1076.4 187.8 1079.6 190.8 1082.8C193.8 1086 202.4 1089.2 205.7 1091.3C209.1 1093.4 210.2 1094.8 211.1 1095.5M197.2 1040.2C195.8 1043.7 189.9 1055.1 188.7 1061.5C187.5 1067.9 189.6 1075.7 189.8 1078.5M325 975.2C328.7 974.8 338 973.3 346.9 972.5C355.9 971.6 373.6 970.7 378.9 970.3M325 977.4C330.4 977.5 345.1 977.3 357.6 978C370.1 978.7 387.4 979.8 400.2 981.6C413 983.5 423.6 986.1 434.3 989.1C444.9 992.1 456.3 996.2 464.1 999.7C471.9 1003.3 477.4 1006.5 481.1 1010.4C484.8 1014.3 486.1 1018.5 486.4 1023.1C486.8 1027.8 485.5 1033.8 483.2 1038C480.9 1042.3 476.8 1045.3 472.6 1048.7C468.3 1052.1 460.2 1056.7 457.7 1058.3M325 980.1C329.7 980.2 343.3 979.2 353.3 980.6C363.4 981.9 379.9 986.8 385.3 988M325 982.7C330.4 982.9 345.1 983 357.6 983.7C370.1 984.5 387.8 985.3 400.2 986.9C412.6 988.5 422.9 990.5 432.1 993.3C441.3 996.2 449.9 1000.1 455.5 1004C461.2 1007.9 464.1 1012.1 466.2 1016.8C468.3 1021.4 469 1026.7 468.3 1031.7C467.6 1036.6 465.5 1041.6 461.9 1046.6C458.4 1051.5 453.1 1056.9 447 1061.5C441 1066.1 434.3 1070.3 425.7 1074.3C417.2 1078.2 407.3 1081.7 395.9 1084.9C384.6 1088.1 369.4 1091.2 357.6 1093.4C345.8 1095.6 330.4 1097.3 325 1098.1M325 990.1C328.7 990.1 338 989.4 346.9 990.1C355.9 990.8 370 992.3 378.9 994.4C387.8 996.5 394.9 999.5 400.2 1002.9C405.5 1006.3 408.9 1010.9 410.8 1014.6C412.8 1018.4 413 1021.7 411.9 1025.3C410.8 1028.8 408.9 1032.5 404.4 1035.9C400 1039.3 393.1 1043.4 385.3 1045.5C377.5 1047.6 367.6 1048 357.6 1048.7C347.5 1049.4 330.4 1049.6 325 1049.8M325 999.7C328.7 999.9 339.4 999.7 346.9 1000.8C354.5 1001.8 364 1004.2 370.4 1006.1C376.8 1008.1 379.6 1010.9 385.3 1012.5C391 1014.1 400.2 1014.6 404.4 1015.7C408.7 1016.8 409.8 1018.4 410.8 1018.9M325 1007.2C327.6 1007.3 334.1 1007.2 340.6 1008.2C347 1009.3 357.6 1011.4 364 1013.6C370.4 1015.7 376 1018.7 378.9 1021C381.7 1023.3 382.4 1025.1 381 1027.4C379.6 1029.7 376 1032.7 370.4 1034.9C364.7 1037 354.5 1038.9 346.9 1040.2C339.4 1041.5 328.7 1042.3 325 1042.7M325 1016.8C326.9 1016.9 330.9 1016.8 336.3 1017.8C341.7 1018.9 351.9 1021 357.6 1023.1C363.3 1025.3 368.2 1028.1 370.4 1030.6C372.5 1033.1 372.5 1036.1 370.4 1038C368.2 1040 365.1 1041.2 357.6 1042.3C350 1043.4 330.4 1044.1 325 1044.4M340.6 1031.7C342.7 1031 349.4 1028.5 353.3 1027.4C357.2 1026.3 362.2 1025.6 364 1025.3M408.7 984.8C413 985.9 427.2 988 434.3 991.2C441.3 994.4 447.6 999.7 451.3 1004C455 1008.2 456.3 1012.5 456.6 1016.8C457 1021 455.7 1025.3 453.4 1029.5C451.1 1033.8 448.1 1038 442.8 1042.3C437.4 1046.6 430.3 1051.5 421.5 1055.1C412.6 1058.6 402 1061.1 389.5 1063.6C377.1 1066.1 357.7 1068.7 346.9 1070C336.2 1071.2 328.7 1070.9 325 1071.1M457.7 1001.8C458.7 1003.6 462.5 1008.6 464.1 1012.5C465.7 1016.4 467.6 1020.7 467.3 1025.3C466.9 1029.9 464.6 1035.9 461.9 1040.2C459.3 1044.4 455.9 1047.6 451.3 1050.8C446.7 1054 441.3 1056.5 434.3 1059.3C427.2 1062.2 416.3 1065.4 408.7 1067.9C401.1 1070.3 391.8 1073.2 388.5 1074.3M474.7 1038C471.2 1039.8 462.3 1045.1 453.4 1048.7C444.5 1052.2 433.9 1056.5 421.5 1059.3C409.1 1062.2 393.1 1063.8 378.9 1065.7C364.7 1067.7 345.3 1069.6 336.3 1071.1C327.3 1072.5 326.9 1073.7 325 1074.3M456.6 1016.8C456.3 1018.2 455.4 1023 454.5 1025.3C453.6 1027.6 451.8 1029.7 451.3 1030.6M524.8 1059.8C521.7 1061.5 513.9 1066.2 506.7 1070C499.4 1073.8 490.3 1078.9 481.1 1082.8C471.9 1086.7 463.2 1090.6 451.3 1093.4C439.4 1096.3 416.7 1098.7 409.8 1099.8M521.6 1064.7C517.3 1067 505.6 1074.1 496 1078.5C486.4 1082.9 474.7 1087.7 464.1 1091.3C453.4 1094.8 444.5 1097 432.1 1099.8C419.7 1102.6 403.7 1106.2 389.5 1108.3C375.3 1110.5 357.7 1111.9 346.9 1112.6C336.2 1113.3 328.7 1112.6 325 1112.6M517.3 1086C512 1087.2 497.8 1090.4 485.4 1093.4C472.9 1096.4 457 1100.9 442.8 1104.1C428.6 1107.3 414.4 1110.3 400.2 1112.6C386 1114.9 370.1 1117.2 357.6 1117.9C345.1 1118.6 330.4 1117 325 1116.8M519.4 1088.1L500.3 1088.1L484.3 1093.4L506.7 1091.3L518.4 1089.2M545 1082.3C540.4 1084 529 1088.7 517.3 1092.4C505.6 1096 490.7 1100.7 474.7 1104.1C458.7 1107.4 439.2 1110.1 421.5 1112.6C403.7 1115.1 384.3 1117.5 368.2 1119C352.2 1120.4 332.2 1120.7 325 1121.1M325 1114.7C330.4 1113.1 342.6 1106.2 357.6 1105.1C372.6 1104.1 405.5 1107.8 415.1 1108.3M325 1109.4C328.7 1109.9 338 1111.7 346.9 1112.6C355.9 1113.5 373.6 1114.4 378.9 1114.7M629.2 828.8C633.5 846.2 644.4 893.8 655 933C665.6 972.2 686.2 1042.4 692.5 1064.2M650.8 821.3C655 839.9 666.8 894.6 675.8 933C684.9 971.4 700.1 1032 705 1051.8M761.2 823.8C761.6 829.5 761.9 847.8 763.3 858C764.7 868.2 768.5 880.6 769.6 885.1M863.3 840.5C861.9 844.1 857.4 854 855 862.2C852.6 870.3 849.8 884.7 848.8 889.2M913.3 820.5C910.6 827.4 901.2 849 896.7 862.2C892.2 875.4 888 893.4 886.2 899.7M998.8 829.7C991.5 846.9 969.2 900.5 955 933C940.8 965.5 923.1 1001.1 913.3 1024.7C903.6 1048.3 899.4 1066.3 896.7 1074.7M1019.6 833.8C1012.3 850.4 988.7 902.6 975.8 933C963 963.4 949.1 1001.4 942.5 1016.3C935.9 1031.3 937.3 1021.5 936.2 1022.6M940.4 1018.4C938 1025 930 1046.4 925.8 1058C921.7 1069.6 917.2 1083 915.4 1088M696.7 891.3C700.1 901.1 710.6 927.4 717.5 949.7C724.4 971.9 732.1 1001.1 738.3 1024.7C744.6 1048.3 752.2 1080.2 755 1091.3M732.1 821.3C732.4 827.4 733.1 846.3 734.2 858C735.2 869.7 737.6 885.8 738.3 891.3M748.8 892.5L769.6 891.5L776.9 895.6L794.6 895.6L815.4 892.9L830 897.7L840.4 905L850.8 910.2L864.4 914.4L861.2 909.2L893.5 908.1L900.8 921.7L908.1 938.3L917.5 954L913.3 969.6L910.2 984.2L905 996.7L906 999.8L897.7 1005L890.4 1010.2L892.5 1015.4L877.9 1023.8L861.2 1030L848.8 1032.1L830 1031L807.1 1030L800.8 1024.8L784.2 1019.6L767.5 1014.4L750.8 1009.2L736.2 1005L732.1 996.7L733.1 982.1L727.9 977.9L720.6 971.7L719.6 959.2L722.7 940.4L732.1 936.2L744.6 933.1L749.8 929L748.8 892.5M814.4 893.5C810 897.9 797.9 910.7 788.3 919.6C778.8 928.4 766.5 938.3 757.1 946.7C747.7 955 737.8 962.6 732.1 969.6C726.4 976.5 724.1 981.7 722.7 988.3C721.3 994.9 723.6 1005.7 723.8 1009.2M854 915.4C850 917.8 839.2 923.8 830 930C820.8 936.2 809.2 944.9 798.8 952.9C788.3 960.9 775.8 970.6 767.5 977.9C759.2 985.2 751.9 993.5 748.8 996.7M782.1 1016.5C788.3 1013.9 806.4 1005.9 819.6 1000.8C832.8 995.8 849.1 990.2 861.2 986.2C873.4 982.3 883.6 979.8 892.5 976.9C901.4 973.9 910.7 969.9 914.4 968.5M779 1023.8C781.2 1022.9 784 1022 792.5 1018.5C801 1015.1 816.8 1008 830 1002.9C843.2 997.9 859.2 992.2 871.7 988.3C884.2 984.5 899.4 981.4 905 980M720.6 961.2L718.5 984.2L721.7 996.7L718.5 1013.3L725.8 1023.8L731 1034.2L738.3 1044.6L750.8 1049.8L761.2 1050.8L767.5 1059.2L775.8 1061.2L784.2 1067.5L792.5 1070.6L798.8 1075.8L805 1082.1L813.3 1088.3L818.5 1092.5M723.8 1005L732.1 1017.5L744.6 1027.9L757.1 1030L761.2 1038.3L773.8 1042.5L788.3 1046.7L794.6 1052.9L805 1057.1L815.4 1065.4L823.8 1061.2L838.3 1052.9L855 1044.6L871.7 1034.2L886.2 1025.8L890.4 1021.7M818.5 1090.4L825.8 1086.2L838.3 1075.8L850.8 1065.4L860.2 1061.2L871.7 1048.8L882.1 1040.4L889.4 1030L890.4 1013.3M813.3 1068.5L821.7 1067.5L827.9 1071.7L826.9 1086.2L821.7 1090.4L813.3 1088.3L814.4 1077.9L810.2 1073.8L813.3 1068.5M733.1 984.2L730 1009.2L731 1038.3M748.8 1030L749.8 1048.8M766.5 1015.4L764.4 1038.3L765.4 1069.6M788.3 1023.8L784.2 1038.3L786.2 1063.3M807.1 1030L800.8 1046.7L801.9 1071.7M825.8 1029L824.8 1059.2M848.8 1032.1L842.5 1057.1L844.6 1075.8M865.4 1021.7L864.4 1044.6M877.9 1023.8L873.8 1046.7M802.9 1038.3L809.2 1050.8L813.3 1063.3L817.5 1059.2L821.7 1067.5M810.2 1038.3L817.5 1048.8M738.3 891.2C740.8 901.5 748.8 930.5 752.9 952.9C757.1 975.3 761.2 1006.4 763.3 1025.8C765.4 1045.3 765.1 1062.3 765.4 1069.6M736.2 880C736.8 883.5 738.3 894.1 739.4 900.8C740.4 907.6 742 917.3 742.5 920.6M901.9 916.5C898.6 925 889.9 947.2 882.1 967.5C874.3 987.8 863 1018.2 855 1038.3C847 1058.5 838.5 1077.2 834.2 1088.3C829.8 1099.4 829.8 1102.2 829 1105M899.8 950.8C897.9 958.5 893 980.7 888.3 996.7C883.6 1012.6 875.8 1031.4 871.7 1046.7C867.5 1061.9 864.9 1080 863.3 1088.3C861.8 1096.7 862.5 1095.3 862.3 1096.7M142.1 1176.5L173.3 1189L190 1192.2L205.6 1195.3M142.1 1176.5L174.4 1202.6L158.8 1197.4L144.2 1195.3L136.9 1204.7L145.2 1225.1L141 1207.8L152.5 1215.1L165 1217.6L153.5 1211.3L177.5 1214L206.7 1220.3L235.8 1227.6L265 1233.4M168.1 1179.2L171.2 1188L179.6 1190.1L204.6 1195.3M95.2 1239C96.4 1238 99.9 1235 102.5 1232.8C105.1 1230.5 106 1227.8 110.8 1225.5C115.7 1223.2 123 1220.7 131.7 1219.2C140.3 1217.8 157.7 1217.2 162.9 1216.8M103.5 1234.9L106.7 1225.5L117.1 1222.4L130.6 1223.4M121.2 1214L131.7 1215.1L141 1220.3M108.8 1239.7C112.6 1239 123.7 1237.2 131.7 1235.9C139.7 1234.6 149.7 1233.8 156.7 1231.8C163.6 1229.7 168.8 1225.6 173.3 1223.4C177.8 1221.3 179.6 1219.4 183.8 1218.8C187.9 1218.3 195.9 1220 198.3 1220.3M146.2 1235.9C148.3 1237 153.2 1240.1 158.8 1242.2C164.3 1244.2 171.9 1246.7 179.6 1248.4C187.2 1250.2 195.9 1251.5 204.6 1252.6C213.3 1253.6 223.9 1254.8 231.7 1254.7C239.5 1254.5 248.2 1252.1 251.5 1251.5M110.8 1250.5L109.8 1255.7L112.9 1260.9M110.8 1250.5C113.6 1251.2 121.2 1253.5 127.5 1254.7C133.8 1255.9 142.1 1258.5 148.3 1257.8C154.6 1257.1 159.1 1252.6 165 1250.5C170.9 1248.4 180.6 1246.2 183.8 1245.3M95.2 1271.3C97.8 1271.7 105.5 1273.8 110.8 1273.4C116.2 1273.1 121.9 1271.3 127.5 1269.2C133.1 1267.2 139 1263.5 144.2 1260.9C149.4 1258.3 152.5 1256.1 158.8 1253.6C165 1251.2 177.8 1247.5 181.7 1246.3M119.2 1251.5L133.8 1260.9L146.2 1271.3L160.8 1281.8L174.4 1284.2L170.2 1277.6L162.9 1292.2L179.6 1288L203.5 1282.8L208.8 1283.8M156.7 1265.1C154.2 1266.1 146.2 1268.6 142.1 1271.3C137.9 1274.1 135.1 1278.6 131.7 1281.8C128.2 1284.9 126.1 1287.8 121.2 1290.1C116.4 1292.3 105.6 1294.4 102.5 1295.3M134.8 1267.2C134.6 1269.6 136 1277.9 133.8 1281.8C131.5 1285.6 122.3 1287 121.2 1290.1C120.2 1293.2 127.5 1297.4 127.5 1300.5C127.5 1303.6 125.4 1306.2 121.2 1308.8C117.1 1311.4 105.6 1314.9 102.5 1316.1M212.9 1259.9L194.2 1275.5L173.3 1294.2L140 1308.8L132.7 1313L141 1318.2L127.5 1323.4L116 1323.4M212.9 1259.9L209.8 1283.8L215 1288L235.8 1281.8L251.5 1275.5M208.8 1285.9C211.2 1287 217.6 1291.3 223.3 1292.2C229.1 1293 239.8 1291.3 243.1 1291.1M233.3 1233.8L225.4 1237L235.8 1263L246.2 1283.8L251.5 1290.1M233.8 1273.4L244.2 1281.8L248.3 1279.7L256.7 1292.2L269.2 1296.3L287.9 1294.2L315 1288M169.2 1298.4L181.7 1302.6L198.3 1308.8L212.9 1302.6L220.2 1304.7L223.3 1312L226.5 1314M140 1309.9C143.1 1309.7 152.2 1309.4 158.8 1308.8C165.3 1308.3 172.1 1308.6 179.6 1306.8C187 1304.9 199.5 1299.5 203.5 1298M269.2 1295.3L252.5 1298.4L254.6 1304.7L243.1 1306.8L250.4 1308.8L252.5 1325.5L242.1 1313L235.8 1318.2L231.7 1327.6L215 1327.6L190 1321.3L169.2 1315.1M304.6 1166.1L306.7 1172.4L285.8 1173.4L269.2 1178.6L254.6 1184.9L231.7 1191.1L227.5 1196.3L203.5 1201.5L231.7 1196.3L256.7 1188L281.7 1187M194.2 1205.7L215 1208.8L233.8 1212L248.3 1217.2L258.8 1222.4M267.1 1196.3L256.7 1204.7L248.3 1214L267.1 1216.1L277.5 1221.3L284.8 1225.5L293.1 1222.4L295.2 1227.6L306.7 1231.8L315 1233.8M266 1210.9C266.6 1212.7 267.6 1217.9 269.2 1221.3C270.7 1224.8 274.4 1230 275.4 1231.8M301.5 1178.6L287.9 1183.8L278.5 1192.2L290 1196.3L298.3 1202.6L308.8 1203.6L292.1 1207.2L315 1202.6M266 1180.7C268.6 1181.2 277 1181.6 281.7 1183.8C286.4 1186.1 291.4 1190.4 294.2 1194.2C296.9 1198.1 295.9 1203.3 298.3 1206.8C300.8 1210.2 306 1213 308.8 1215.1C311.5 1217.2 314 1218.6 315 1219.2M266 1233.8L269.2 1235.9L271.2 1246.3L277.5 1256.8L285.8 1263L294.2 1259.9L292.1 1271.3L293.1 1279.7L296.2 1284.9M304.4 1166.3L324.4 1185.2L342.2 1200.8L353.3 1220.8L363.3 1239.7M300 1205.2L313.3 1200.8L341.1 1194.1L342.2 1200.8L347.8 1210.8M335.6 1209.7L328.9 1196.3L324.4 1185.2L320 1203L321.1 1210.8M300 1199.7L310 1203L302.2 1206.3M300 1225.2L315.6 1221.9L304.4 1216.3L300 1215.2M300 1231.9L313.3 1234.1L322.2 1238.6L322.2 1245.2L310 1245.2L310 1250.8L318.9 1251.9L316.7 1259.7L323.3 1254.1L344.4 1243L352.2 1243L354.4 1254.1L364.4 1254.1M331.1 1220.8C332.8 1221.3 338.3 1221.9 341.1 1224.1C343.9 1226.3 345.7 1231.7 347.8 1234.1C349.8 1236.5 352.6 1238.9 353.3 1238.6C354.1 1238.2 353.7 1233.7 352.2 1231.9C350.7 1230 347.2 1228.2 344.4 1227.4C341.7 1226.7 337 1227.4 335.6 1227.4M337.8 1219.7L344.4 1225.2M363.3 1239.7L360 1234.1L364.4 1217.4L368.9 1215.2L375.6 1227.4L382.2 1245.2L387.8 1239.7L393.3 1236.3L398.9 1245.2L404.4 1256.3L413.3 1261.9L424.4 1259.7L433.3 1251.9L435.6 1243L432.2 1233L442.2 1227.4L453.3 1225.2L460 1231.9L466.7 1235.2M382.2 1250.8L371.1 1259.7L384.4 1260.8L395.6 1260.8L400 1268.6L415.6 1275.2L421.1 1276.8L426.7 1287.4L428.9 1300.8L435.6 1310.8L445.6 1312.3L447.8 1323L451.1 1330.1M427.8 1258.6L427.8 1269.7M326.7 1256.3L322.2 1269.7L321.1 1283L342.2 1277.4L336.7 1295.2L347.8 1291.9M300 1291.9L317.8 1289.2M377.8 1287.4L386.7 1305.2L401.1 1305.2L377.8 1287.4M350 1206.3L388.9 1196.3L433.3 1185.2L477.8 1175.2L522.2 1165.2L528.9 1164.1M425.6 1181.9C426.9 1183.4 429.1 1188.9 433.3 1190.8C437.6 1192.6 445.9 1193.4 451.1 1193C456.3 1192.6 460.7 1190 464.4 1188.6C468.1 1187.1 471.9 1184.9 473.3 1184.1M433.3 1185.2L455.6 1176.3L466.7 1169.7L468.9 1179.7L477.8 1176.3M420 1197.4C424.1 1197.6 436.3 1198.9 444.4 1198.6C452.6 1198.2 460.4 1194.7 468.9 1195.2C477.4 1195.8 488.1 1201.7 495.6 1201.9C503 1202.1 506.7 1196.7 513.3 1196.3C520 1196 531.1 1199.5 535.6 1199.7C540 1199.9 539.3 1197.8 540 1197.4M382.2 1224.1C384.4 1220.8 389.3 1208.4 395.6 1204.1C401.9 1199.8 413.7 1199.6 420 1198.1C426.3 1196.6 431.1 1195.7 433.3 1195.2M385.6 1229.7C389.1 1228.2 400.2 1222.8 406.7 1220.8C413.1 1218.7 419.6 1216 424.4 1217.4C429.3 1218.9 432.6 1228 435.6 1229.7C438.5 1231.3 441.1 1227.8 442.2 1227.4M411.1 1218.6C412.2 1216.7 415.2 1210.6 417.8 1207.4C420.4 1204.3 423.3 1199.7 426.7 1199.7C430 1199.7 434.4 1204.5 437.8 1207.4C441.1 1210.4 440.7 1216 446.7 1217.4C452.6 1218.9 468.9 1216.5 473.3 1216.3M404.4 1228.6L415.6 1224.1L406.7 1240.8L417.8 1231.9L415.6 1245.2L416.7 1251.9M446.7 1204.1C448.9 1204.1 455.9 1203.4 460 1204.1C464.1 1204.9 467.4 1208.7 471.1 1208.6C474.8 1208.4 480.4 1203.9 482.2 1203M482.2 1203C481.1 1205.6 477.8 1213.7 475.6 1218.6C473.3 1223.4 471.5 1227.4 468.9 1231.9C466.3 1236.3 464.1 1242.8 460 1245.2C455.9 1247.6 447.4 1244.5 444.4 1246.3C441.5 1248.2 442.6 1254.7 442.2 1256.3M500 1204.1C498.5 1204.9 493.7 1205.4 491.1 1208.6C488.5 1211.7 487.4 1219.1 484.4 1223C481.5 1226.9 477 1228.6 473.3 1231.9C469.6 1235.2 464.8 1239.9 462.2 1243C459.6 1246.1 458.5 1249.5 457.8 1250.8M495.6 1220.8C492.6 1222.3 483.7 1225 477.8 1229.7C471.9 1234.3 465.2 1244.7 460 1248.6C454.8 1252.4 451.1 1249.9 446.7 1253C442.2 1256.1 435.9 1264.5 433.3 1267.4C430.7 1270.4 431.5 1270.2 431.1 1270.8M488.9 1214.1C492.2 1215 502.2 1218.6 508.9 1219.7C515.6 1220.8 525.6 1220.6 528.9 1220.8M511.1 1203C510.9 1206 511.1 1216.3 510 1220.8C508.9 1225.2 505.4 1228.2 504.4 1229.7M536.7 1201.9C535.4 1204.3 532.8 1211.3 528.9 1216.3C525 1221.3 518.9 1227.6 513.3 1231.9C507.8 1236.1 501.5 1239.7 495.6 1241.9C489.6 1244.1 483 1244.1 477.8 1245.2C472.6 1246.3 466.7 1248 464.4 1248.6M513.3 1170.8C511.9 1172.1 506.5 1175.8 504.4 1178.6C502.4 1181.3 501.5 1184.7 501.1 1187.4C500.7 1190.2 502 1193.9 502.2 1195.2M502.2 1184.1L525.6 1184.1L524.4 1195.2L508.9 1195.2M493.3 1205.2C495.2 1204.1 501.1 1200 504.4 1198.6C507.8 1197.1 511.9 1196.7 513.3 1196.3M92.8 1341.1L109.4 1354.4L132.8 1330L107.2 1324.9M132.8 1330L143.9 1338.9L158.3 1326.7L165 1320M116.1 1323.3C118.3 1323.1 125.6 1322.8 129.4 1322.2C133.3 1321.7 137.8 1320.4 139.4 1320M168.3 1315.1L170.6 1320L175 1328.9L170.6 1333.3L175 1351.1L170.6 1355.6L169.4 1365.6L162.8 1367.8L156.1 1361.1L150.6 1374.4L138.3 1375.6L126.1 1384.4L118.3 1383.3L113.9 1396.7L106.1 1398.9L100.6 1413.3L99.4 1426.7L92.8 1440L91.7 1447.8L93.9 1451.1M188.3 1320C191.1 1320.9 199.3 1324.3 205 1325.6C210.7 1326.9 218.1 1328 222.8 1327.8C227.4 1327.6 231.1 1325 232.8 1324.4M248.3 1320L252.8 1326.7L253.9 1320M212.8 1333.3C210.7 1335.9 204.8 1343.1 200.6 1348.9C196.3 1354.6 190.9 1361.9 187.2 1367.8C183.5 1373.7 181.3 1380.2 178.3 1384.4C175.4 1388.7 172.8 1391.5 169.4 1393.3C166.1 1395.2 162.6 1394.1 158.3 1395.6C154.1 1397 148.7 1399.3 143.9 1402.2C139.1 1405.2 134.4 1409.6 129.4 1413.3C124.4 1417 118.7 1420.7 113.9 1424.4C109.1 1428.1 103.5 1432.2 100.6 1435.6C97.6 1438.9 96.7 1440.7 96.1 1444.4C95.6 1448.1 97 1455.6 97.2 1457.8M267.2 1326.7C266.5 1327.8 265.6 1331 262.8 1333.3C260 1335.6 255 1339.5 250.6 1340.4C246.1 1341.4 240 1338.8 236.1 1338.9C232.2 1339 230.6 1339.1 227.2 1341.1C223.9 1343.1 219.3 1347.6 216.1 1351.1C213 1354.6 210 1359.3 208.3 1362.2C206.7 1365.2 204.4 1368.7 206.1 1368.9C207.8 1369.1 214.1 1365 218.3 1363.3C222.6 1361.7 229.4 1357.6 231.7 1358.9C233.9 1360.2 233 1367.2 231.7 1371.1C230.4 1375 226.9 1379.4 223.9 1382.2C220.9 1385 217 1387.4 213.9 1387.8C210.7 1388.1 208.1 1384.3 205 1384.4C201.9 1384.6 196.7 1388.1 195 1388.9M278.3 1328.9L265 1337.8L253.9 1348.9L247.2 1366.7L243.9 1374.4L242.8 1371.1L238.3 1378.9L236.1 1377.8L222.8 1386.7L209.4 1395.6L196.1 1405.6L189.4 1408.9M167.2 1370L176.1 1386.7L182.8 1400L188.3 1410L180.6 1411.1L163.9 1408.9L161.7 1376.7L173.9 1373.3L189.4 1371.1L209.4 1370.7L227.2 1367.1M140.6 1378.9L145 1386.7L161.7 1382.2L170.6 1382.2L176.1 1381.1M145 1386.7L143.9 1404.4M161.7 1386.7L145 1396.7L132.8 1407.8L126.1 1415.6M135 1394.4L132.8 1404.4L125 1415.6M99.4 1431.1C102.2 1427.8 110.6 1418.3 116.1 1411.1C121.7 1403.9 128.7 1393 132.8 1387.8C136.9 1382.5 139.3 1380.9 140.6 1379.6M100.6 1415.6L107.2 1428.9L115 1424.4L112.8 1435.6L111.7 1447.8L106.1 1451.1L100.6 1447.8L100.6 1435.6M118.3 1408.9L116.1 1422.2L115 1426.7M106.1 1428.9C108.5 1427 114.8 1421.3 120.6 1417.8C126.3 1414.3 134.3 1410.2 140.6 1407.8C146.9 1405.4 154.4 1404.3 158.3 1403.3C162.2 1402.4 163 1402.4 163.9 1402.2M161.7 1391.1L146.1 1398.9M372.8 1318.9C371.1 1319.4 366.5 1319.8 362.6 1322C358.7 1324.3 353.2 1328.5 349.6 1332.2C346.1 1335.9 343.2 1340.2 341.3 1344.3C339.4 1348.3 338.3 1352.6 338.1 1356.3C338 1360 339.1 1364.2 340.4 1366.5C341.7 1368.8 345 1369.6 345.9 1370.2M345.9 1370.2L355.2 1367.4L362.6 1373.9L370 1375.7L378.3 1373.9L383 1382.2L386.7 1392.4L397.8 1391.5L408 1393.3L403.3 1404.4L397.8 1410L392.2 1410L373.7 1400.7L353.3 1389.6L333 1381.3L321.9 1378.5L313.5 1378.5L311.7 1381.3M372.8 1318.9L377.4 1322L383 1338.7L386.7 1333.1L394.1 1349.8L403.3 1339.6L411.7 1352.6L418.1 1334.1L421.9 1333.1L425.6 1364.6L428.3 1343.3L425.6 1335.9L436.7 1347L447.8 1364.6L452.4 1362.8L453.3 1337.8L450.6 1321.1L445.9 1311.9L434.8 1310M418.1 1335.9L425.6 1363.7M421.9 1334.1L431.1 1347L437.6 1348M416.3 1361.9C415.4 1363.7 413.2 1369.3 410.7 1373C408.3 1376.7 404.4 1381 401.5 1384.1C398.5 1387.2 394.5 1390.2 393.1 1391.5M276.5 1326.7L286.7 1335.9L294.1 1347L295 1354.4L289.4 1359.1L295 1365.6L292.2 1370.2L279.3 1374.8L297.8 1381.3L316.3 1386.9L331.1 1387.8L340.4 1389.6M270 1333.1L281.1 1328.5M293.1 1330.4L303.3 1321.1L309.8 1323.9L319.1 1321.1L328.3 1315.6M299.6 1341.5L305.2 1358.1L308.9 1373M308.9 1387.4L323.7 1386.9M739 1216.2L731.7 1214.2L721.2 1212.1L715 1212.1L710.8 1218.3L710.8 1224.6L717.1 1223.5L729.6 1222.5L734.8 1224.6L740 1231.9L748.3 1236L751.5 1239.2M739 1216.2L744.2 1226.7L751.5 1239.2L750.4 1242.3L742.1 1245.4L731.7 1241.2L721.2 1234L719.2 1230.8L727.5 1231.9L740 1236L749.4 1237.1M717.1 1224.2L727.5 1225.6L732.7 1229.8L736.9 1235M721.2 1234L731.7 1238.1L742.1 1241.2L750.4 1241.2M739 1216.2L752.5 1211L769.2 1205.8L787.9 1203.3L806.7 1202.1L792.1 1206.9L810.8 1206.9L829.6 1208.3L818.1 1212.1L835.8 1218.3L829.2 1221.5L844.2 1232.5L833.8 1231.9L823.3 1227.7L815 1224.6L806.7 1222.5M740 1215.2L758.8 1212.1L777.5 1212.1L794.2 1216.2L804.6 1222.5L810.8 1230.8L815 1237.1L810.8 1234L815 1244.4L823.3 1251.7L815 1250.6L823.3 1260L828.5 1270.4L821.2 1268.3L827.5 1277.7L835.8 1282.9L844.2 1288.1L826.5 1288.1L835.8 1297.5L848.3 1307.9L860.8 1314.2L867.1 1315.2M754.6 1222.5L773.3 1222.1L792.1 1224.2M757.7 1223.5C758.4 1224.6 760 1228.1 761.9 1229.8C763.8 1231.5 766.6 1233.2 769.2 1234C771.8 1234.8 775.1 1235.3 777.5 1234.6C779.9 1233.9 782.2 1231.5 783.8 1229.8C785.3 1228.1 786.4 1225.5 786.9 1224.6M764 1224.6C764.1 1225.5 764 1228.4 765 1229.8C766 1231.2 769.3 1232.4 770.2 1232.9M773.3 1224.6C773.2 1225.5 771.8 1228.8 772.3 1229.8C772.8 1230.8 775.4 1231.5 776.5 1230.8C777.5 1230.1 778.2 1226.5 778.5 1225.6M823.3 1227.7L831.7 1243.3L840 1257.9L850.4 1272.5L862.9 1285L865 1288.1L852.5 1288.1L844.2 1288.1M827.5 1235L833.8 1239.2L829.6 1239.6M750.4 1242.3L753.5 1261L750.4 1265.2L756.7 1274.6L749.4 1278.8L754.6 1280.8L752.5 1293.3L748.3 1307.9L752.5 1305.8L746.2 1320.4L734.8 1326.7L746.2 1326.7L740 1347.5M845.3 1304C847.3 1303.1 852.6 1301.6 857.6 1298.7C862.6 1295.8 868.4 1291.4 875.2 1286.4C881.9 1281.4 891 1275 898.1 1268.8C905.1 1262.6 911.8 1255.8 917.4 1249.4C923 1243.1 929.1 1234.1 931.5 1231M931.5 1231L938.5 1229.7L954.4 1237.1L977.2 1244.2L998.3 1250.3L1019.5 1254.7M866.4 1296.9C869.3 1294.3 878.7 1285.5 884 1281.1C889.3 1276.7 895.7 1272.3 898.1 1270.6M866.4 1332.1C867.9 1329.8 872.3 1322.2 875.2 1318.1C878.1 1314 879.9 1311.3 884 1307.5C888.1 1303.7 895.4 1299.3 899.8 1295.2C904.2 1291.1 906.9 1287 910.4 1282.9C913.9 1278.8 916.7 1275.1 920.9 1270.6C925.2 1266 933.4 1258.1 935.9 1255.6M870.8 1323.3L872.5 1314.5L875.2 1313.7M917.4 1277.6C917.7 1276.4 916.8 1272.9 919.2 1270.6C921.5 1268.2 926.5 1265.1 931.5 1263.5C936.5 1261.9 944.1 1260.9 949.1 1260.9C954.1 1260.9 958.5 1261.3 961.4 1263.5C964.3 1265.7 966.4 1270.3 966.7 1274.1C967 1277.9 965.5 1282.6 963.2 1286.4C960.8 1290.2 957 1294.5 952.6 1296.9C948.2 1299.4 941.5 1301.3 936.8 1301.3C932.1 1301.3 927.5 1299.4 924.4 1296.9C921.4 1294.5 919.5 1289.6 918.3 1286.4C917.1 1283.2 917.6 1279.1 917.4 1277.6M921.8 1269.7C924 1268.7 930.5 1264.8 935 1263.5C939.5 1262.2 944.4 1261.5 949.1 1261.8C953.8 1262.1 958.5 1263.8 963.2 1265.3C967.8 1266.7 971.4 1268.5 977.2 1270.6C983.1 1272.6 992 1276 998.3 1277.6C1004.6 1279.2 1012.3 1279.8 1015.1 1280.2M935 1259.1L945.6 1260.9L959.6 1260.9M903.3 1295.2C903.1 1296.7 901.6 1303 901.9 1304C902.3 1304.9 904.5 1299.9 905.4 1300.8C906.4 1301.7 906.3 1306.9 907.7 1309.3C909.1 1311.6 911.5 1315.5 913.9 1314.9C916.3 1314.3 920 1306.1 922.3 1305.7C924.7 1305.4 926.1 1311.3 928 1312.8C929.8 1314.3 931.1 1316.3 933.2 1314.9C935.4 1313.5 938.9 1305 940.6 1304.3C942.4 1303.7 942.6 1309.6 943.8 1311C945 1312.5 945.8 1314.8 947.7 1313.1C949.6 1311.4 952.9 1302.1 955.2 1300.8C957.5 1299.6 959.5 1304.9 961.4 1305.7C963.3 1306.6 965.5 1308.1 966.7 1306.1C967.8 1304.1 967.3 1295 968.4 1293.8C969.6 1292.6 971.8 1297.6 973.7 1298.7C975.6 1299.8 979.5 1302.5 979.9 1300.5C980.2 1298.5 975.1 1288.7 975.8 1286.7C976.6 1284.8 981.4 1288.5 984.3 1289C987.1 1289.6 992.5 1291.8 993.1 1289.9C993.6 1288 988.7 1279.6 987.8 1277.6M910.4 1319.8L917.4 1319.8L926.2 1326.9L920.9 1329.5L892.8 1327.7L883.1 1323.3M939.4 1318.9L949.1 1322.5L956.1 1330.4L938.5 1324.2L924.4 1321.6M956.1 1311L968.4 1316.3L971.1 1320.7L952.6 1320.7L939.4 1318.9M986 1304.9L996.6 1311L993.1 1314.5L970.2 1312.8L956.1 1311M998.3 1300.5L1015.9 1301.3L1016.8 1307.5L1008.9 1302.2M987.8 1305.7L1005.4 1308.4L1016.8 1311.9M997.5 1318.9L1008.9 1323.3L1017.7 1326.9L1016.8 1332.1L998.3 1323.3L978.1 1320.7M969.3 1330.4L984.3 1333.9L1003.6 1334.8L997.5 1328.6M935.9 1332.1L954.4 1339.2L961.4 1345.3L943.8 1340.1L918.3 1338.3M973.7 1333.9L980.7 1340.9L963.2 1339.2L952.6 1336.5M869 1329.5L889.3 1329.5L891.9 1338.3L871.7 1334.8M891.9 1332.1L906.9 1333.9L892.8 1329.5M875.2 1343.6L892.8 1346.2L906.9 1350.6L898.1 1348L876.9 1349.7L874.3 1354.1M901.6 1340.1L913.9 1344.5L917.4 1347.1L906.9 1347.1M918.3 1338.3L938.5 1342.7L941.2 1348L924.4 1346.2L913.9 1344.5M847 1268.8L849.7 1270.6M855.8 1289.9L860.2 1304M840 1305.7L845.3 1304M844.4 1313.7L857.6 1314.5L866.4 1315.4M844.4 1313.7L854.1 1325.1L861.1 1337.4L854.1 1351.5L847 1365M840 1334.8L857.6 1334.8M860.2 1328.6L866.4 1340.9L872.5 1355L876.9 1355.9M861.1 1329.5L871.7 1344.5L875.2 1355.9M866.4 1346.2L869.9 1356.8L875.2 1365M580 1340.8L600.4 1330.6L630.9 1316.4L657.4 1303.6L665.6 1303.6L681.9 1314.4L702.2 1324.5L722.6 1330.6L734.8 1331.7L745 1329.6M753.2 1295L749.1 1303.1L752.1 1304.2L749.1 1315.4L743 1322.5L733.8 1326.6L748.1 1325.6L743 1338.8L738.9 1350M584.1 1351C587.5 1349.2 596.6 1343 604.4 1339.8C612.3 1336.6 623.1 1333.7 630.9 1331.7C638.7 1329.6 645.5 1328.3 651.3 1327.6C657.1 1326.8 663.2 1327.3 665.6 1327.2M665.6 1327.2L675.7 1333.7L694.1 1338.8L710.4 1349L716.5 1352L738.9 1351.6M636 1340.8C636.5 1339.6 636.5 1335.5 639.1 1333.7C641.6 1331.9 646.9 1330.5 651.3 1330C655.7 1329.5 661.5 1329.7 665.6 1330.6C669.6 1331.6 673.5 1333.7 675.7 1335.7C677.9 1337.8 679.5 1340.5 678.8 1342.9C678.1 1345.2 674.6 1348.1 671.7 1350C668.8 1351.9 665.6 1353.7 661.5 1354.1C657.4 1354.4 651 1353.1 647.2 1352C643.5 1351 640.9 1349.8 639.1 1348C637.2 1346.1 636.5 1342 636 1340.8M614.6 1346.9L623.8 1344.9L625.8 1350L635 1349L639.1 1360.2L651.3 1356.1L661.5 1366.3L671.7 1357.1L681.9 1362.2L688 1356.1L700.2 1355.1L685.9 1345.9L691 1340.8L702.2 1344.9L707.3 1345.9M600.4 1343.9C599 1345.1 594.3 1348.3 592.2 1351C590.2 1353.7 586.8 1359.3 588.1 1360.2C589.5 1361 597.3 1357.1 600.4 1356.1C603.4 1355.1 605.5 1354.4 606.5 1354.1M580 1370.4L590.2 1362.2L599.4 1356.1M623.8 1335.7C621.6 1337.4 613.8 1342.5 610.6 1345.9C607.3 1349.3 605.8 1352.4 604.4 1356.1C603.1 1359.8 600.7 1367.1 602.4 1368.3C604.1 1369.5 612.4 1362.2 614.6 1363.2C616.8 1364.3 614.1 1374.6 615.6 1374.4C617.2 1374.3 622.4 1364.3 623.8 1362.2M630.9 1351C630.1 1353.2 626.7 1359 625.8 1364.3C625 1369.5 625.8 1379.5 625.8 1382.6M625.8 1382.6L635 1376.5L637 1386.7L641.1 1389.7L649.3 1384.6L655.4 1372.4M656.4 1365.3C656.6 1367.8 656.2 1376.8 657.4 1380.6C658.6 1384.3 661.5 1387.3 663.5 1387.7C665.6 1388 667.9 1385.1 669.6 1382.6C671.3 1380 673 1374.1 673.7 1372.4M669.6 1376.5C670.6 1378.2 673.4 1385 675.7 1386.7C678.1 1388.4 681.5 1388.4 683.9 1386.7C686.3 1385 688.8 1380.6 690 1376.5C691.2 1372.4 690.9 1364.6 691 1362.2M691 1363.2C692 1365.4 694.9 1373.3 697.1 1376.5C699.3 1379.7 702.1 1383.3 704.3 1382.6C706.5 1381.9 709.2 1376.1 710.4 1372.4C711.6 1368.7 711.2 1362.2 711.4 1360.2M710.4 1360.2C712.1 1362.6 717.8 1371.4 720.6 1374.4C723.3 1377.5 725.3 1379.5 726.7 1378.5C728 1377.5 728.4 1372.1 728.7 1368.3C729 1364.6 728.7 1358.1 728.7 1356.1M729.7 1364.3C730.9 1364.9 734.6 1368 736.9 1368.3C739.1 1368.7 741.3 1367.3 743 1366.3C744.7 1365.3 746.2 1363.9 747 1362.2C747.9 1360.5 749.1 1358.1 748.1 1356.1C747 1354.1 742.1 1351 740.9 1350M585.1 1390.7L594.3 1382.6L603.4 1376.5M600.4 1380.6C598.7 1384 589.5 1398.6 590.2 1400.9C590.9 1403.3 599.9 1397.4 604.4 1394.8C609 1392.3 615.5 1387.2 617.7 1385.6M606.5 1394.8C605.3 1398.4 598 1413.5 599.4 1416.2C600.7 1418.9 609.4 1414 614.6 1411.1C619.9 1408.2 626.5 1402.5 630.9 1398.9C635.3 1395.3 639.4 1391.3 641.1 1389.7M628.9 1400.9C627.5 1404 619.7 1416.9 620.7 1419.3C621.8 1421.6 629.2 1418.6 635 1415.2C640.8 1411.8 649.6 1404.3 655.4 1398.9C661.1 1393.5 667.3 1385.3 669.6 1382.6M655.4 1400.9C654.2 1403.8 647.2 1416.5 648.2 1418.2C649.3 1419.9 656.6 1414.7 661.5 1411.1C666.4 1407.5 673 1400.4 677.8 1396.9C682.5 1393.3 688 1390.9 690 1389.7M671.7 1398.9C671 1399.7 667.9 1401.8 667.6 1404C667.3 1406.2 667.3 1410.9 669.6 1412.1C672 1413.3 676.4 1413 681.9 1411.1C687.3 1409.2 695.8 1404.5 702.2 1400.9C708.7 1397.4 717.5 1391.6 720.6 1389.7M700.2 1406C700.2 1407.2 697.8 1413.2 700.2 1413.2C702.6 1413.2 708.2 1409.1 714.4 1406C720.7 1403 734 1396.7 737.9 1394.8M741.9 1350C741.8 1353.7 741.6 1364.6 740.9 1372.4C740.2 1380.2 738.7 1388.7 737.9 1396.9C737 1405 735.7 1414.8 735.8 1421.3C736 1427.7 738.4 1433.2 738.9 1435.6M737.9 1396.9L741.9 1417.2L739.9 1418.2M743 1348L763.3 1341.9L777.6 1337.8L774.5 1348L793.9 1337.8L800 1342.9M740.4 1347.3L758.7 1342.2L776 1337.1L775 1347.3L792.3 1336.1L803.5 1352.4L809.6 1337.1L825.9 1344.3L838.2 1349.4L844.3 1338.1L831 1334.1L854.4 1336.1M831 1335.1L837.1 1348.3L842.2 1338.1M754.6 1347.3C756.7 1348.8 761.8 1354.3 766.9 1356.5C771.9 1358.7 778.7 1359.7 785.2 1360.6C791.6 1361.4 799.4 1361.9 805.6 1361.6C811.7 1361.2 817.1 1360 821.9 1358.5C826.6 1357 831 1354.1 834.1 1352.4C837.1 1350.7 839.2 1349 840.2 1348.3M740.4 1347.3L746.5 1356.5L755.6 1370.7L766.9 1387L775 1401.3L781.1 1411.5L793.3 1417.6L805.6 1423.7L817.8 1417.6L830 1411.5L835.1 1399.3L839.2 1380.9L844.3 1364.6L852.4 1348.3L860.6 1336.1M766.4 1371.8L781.1 1373.8L801.5 1373.8L817.8 1371.8L832 1369.7L831 1383L828 1399.3L815.7 1407.4L803.5 1413.5L791.3 1409.4L780.1 1404.4L774 1391.1L766.4 1371.8M769.9 1373.8L785.2 1381.9L801.5 1390.1L817.8 1378.9L830 1371.8M801.5 1390.1L803.5 1413.5M740.4 1348.3C740.9 1350 743.4 1354.8 743.4 1358.5C743.4 1362.3 741 1364.6 740.4 1370.7C739.7 1376.9 739.9 1388.4 739.4 1395.2C738.8 1402 737.8 1406.4 737.3 1411.5C736.8 1416.6 736 1421.5 736.3 1425.7C736.6 1430 738.8 1435.1 739.4 1436.9M739.4 1395.2L742.4 1417.6L740 1418.6M746.5 1360.6L750.6 1368.7L756.7 1373.8M727.1 1354.4L729.2 1363.6L740.4 1370.7M720 1375.8L726.1 1379.9L729.2 1364.6M720 1403.3L730.2 1397.2L739.4 1394.2M724.1 1480.7C724.6 1477.3 725.4 1467.2 727.1 1460.4C728.8 1453.6 731 1445.4 734.3 1440C737.5 1434.6 741.7 1430.4 746.5 1427.8C751.2 1425.1 757.7 1423.8 762.8 1424.1C767.9 1424.5 773 1427 777 1429.8C781.1 1432.6 784.5 1436.6 787.2 1441C789.9 1445.4 791.8 1451 793.3 1456.3C794.9 1461.6 795.4 1467.3 796.4 1472.6C797.4 1477.9 798.9 1485.3 799.4 1487.9M739.4 1463.4L742.4 1462.4L752.6 1466.5L756.7 1470.6L753.6 1473.6L744.4 1470.6L739.4 1463.4M750.6 1454.3L755.6 1450.2L761.8 1470.6L757.7 1460.4L750.6 1454.3M759.7 1446.1L763.8 1470.6L762.8 1452.2M767.9 1450.2L779.1 1450.6L768.9 1470.6L767.9 1450.2M761.8 1481.8C762.6 1481.2 765.2 1478.3 766.9 1478.3C768.6 1478.3 771.1 1481.2 771.9 1481.8M860.6 1336.1L868.7 1352.4L876.9 1368.7L883 1383L887 1397.2L880.9 1403.3L877.9 1411.5M873.8 1369.7L878.9 1374.8L884 1379.9L876.9 1369.7M853.4 1482.8C853.6 1479 853.3 1468.2 854.4 1460.4C855.6 1452.6 858.2 1442.7 860.6 1435.9C862.9 1429.1 865.3 1423.7 868.7 1419.6C872.1 1415.6 875.8 1413.4 880.9 1411.5C886 1409.6 894.8 1407.1 899.3 1408.4C903.7 1409.8 904.7 1415 907.4 1419.6C910.1 1424.2 913.2 1429.8 915.6 1435.9C917.9 1442 920.1 1448.8 921.7 1456.3C923.2 1463.8 924.2 1476.7 924.7 1480.7M871.8 1438L867.7 1458.3L874.8 1457.3L883 1464.4L877.9 1450.2L871.8 1438M891.1 1429.8L887 1446.1L887 1460.4L893.2 1452.2L901.3 1460.4L897.2 1442L891.1 1429.8M903.3 1448.2L911.5 1442L919.6 1434.9L918.6 1464.4L913.5 1460.4L910.5 1446.1L903.3 1448.2M899.3 1480.7L900.3 1468.5L907.4 1480.7M125.9 866.9C126.2 865.3 125.9 860.6 127.8 857.6C129.6 854.6 132.4 851.5 137 849.1C141.7 846.6 148.8 844 155.6 842.8C162.3 841.5 170.4 841 177.8 841.7C185.2 842.3 192.6 843.8 200 846.5C207.4 849.1 214.8 852.7 222.2 857.6C229.6 862.5 237.7 869 244.4 876.1C251.2 883.2 257.7 891.9 263 900.2C268.2 908.5 272.5 918.1 275.9 926.1C279.3 934.1 281.2 941.5 283.3 948.3C285.5 955.1 287.3 960.1 288.9 966.9C290.4 973.6 291.5 981 292.6 989.1C293.7 997.1 295.1 1010.7 295.6 1015M125.9 866.9C127.5 865.3 130.9 859.8 135.2 857.6C139.5 855.4 146 853.9 151.9 853.9C157.7 853.9 164.2 855.1 170.4 857.6C176.5 860.1 182.7 864.1 188.9 868.7C195.1 873.3 201.5 879.2 207.4 885.4C213.3 891.5 218.8 898.6 224.1 905.7C229.3 912.8 234.3 920.6 238.9 928C243.5 935.4 248.5 944.3 251.9 950.2C255.2 956 256.5 959.1 259.3 963.1C262 967.2 265.4 969.3 268.5 974.3C271.6 979.2 275.3 986.6 277.8 992.8C280.2 999 282.4 1008.2 283.3 1011.3M479.6 863.1C479 861.6 478.4 856.5 475.9 853.9C473.5 851.3 470.1 849 464.8 847.6C459.6 846.2 451.5 844.9 444.4 845.4C437.3 845.8 429.6 847.5 422.2 850.2C414.8 852.8 407.4 856.7 400 861.3C392.6 865.9 384.6 871.8 377.8 878C371 884.1 364.5 891.2 359.3 898.3C354 905.4 349.7 913.1 346.3 920.6C342.9 928 340.7 935.1 338.9 942.8C337 950.5 336.2 959.1 335.2 966.9C334.1 974.6 333.4 981.4 332.6 989.1C331.8 996.8 330.7 1009.1 330.4 1013.1M479.6 863.1C477.5 863.3 472.5 863.6 466.7 863.9C460.8 864.2 451.9 863.9 444.4 865C437 866.1 429.6 867.5 422.2 870.6C414.8 873.6 407.1 878.3 400 883.5C392.9 888.8 385.8 895.6 379.6 902C373.5 908.5 367.6 915.6 363 922.4C358.3 929.2 354.9 936 351.9 942.8C348.8 949.6 346.6 956 344.4 963.1C342.3 970.2 340.4 978 338.9 985.4C337.3 992.8 335.8 1003.9 335.2 1007.6M184.4 485.6L197.8 481.7L208.9 479.4L215.6 477.8L217.8 476.3L222.2 476.3L224.4 477.8L226.7 480.6L232.2 480.6L237.8 478.1L243.3 477.8L247.8 478.9L249.8 482.8L249.8 491.1L247.8 491.1L245.6 488.9L241.1 488.3L233.9 488.9L230.6 491.7L232.2 494.4L228.9 499.4L227.2 500.6L222.8 500L220 497.8M215.6 478.3L218.9 483.9L222.2 488.9L223.3 497.2L222.8 500M223.1 500.3L222.2 510.6L225 513.9L227.2 513.9L228.3 508.3L227.2 500.6M227.2 513.9L227.8 518.3L225 527.2L222.2 536.1L220.6 539.4L218.3 536.1L217.2 528.9L216.7 525L215 531.7L214.4 542.8L215 553.9L216.7 565M184.4 485.6L195.6 486.1L206.7 482.8L214.4 480M180.6 506.7L182.2 500.6L187.8 493.9L195.6 487.8L203.3 484.4L212.2 481.7M180.6 503.9L186.7 499.4L193.3 492.8M207.8 488.3L214.4 484.4L218.9 482.8M200 487.8L196.7 495L193.3 502.8L190 509.4L187.8 516.1L186.1 520.6L188.3 517.2L191.7 509.4L195 501.7L197.8 495.6L200.6 488.9M198.3 490.6L195 498.3L191.7 506.1L188.9 512.8M186.1 520.6L184.4 527.2L182.2 533.9L182 538.3L186.7 530.6L186.7 537.2L185 549.4L183.9 565"/></g>
<defs><filter id="ol" x="-30%" y="-30%" width="160%" height="160%"><feGaussianBlur in="SourceAlpha" stdDeviation="3.2" result="bl"/><feComponentTransfer in="bl" result="a"><feFuncA type="linear" slope="14" intercept="-1.4"/></feComponentTransfer><feComponentTransfer in="bl" result="b"><feFuncA type="linear" slope="14" intercept="-3.4"/></feComponentTransfer><feComposite in="a" in2="b" operator="out"/></filter></defs>
<g class="sfx" font-family="'Liberation Sans','Noto Sans CJK JP',sans-serif" font-weight="900" text-anchor="middle">
<g filter="url(#ol)"><text transform="translate(631,1206) rotate(-30)" font-size="70" x="0" y="24.5">ド</text></g>
<g filter="url(#ol)"><text transform="translate(896,1204) rotate(-16)" font-size="67" x="0" y="24">ン</text></g>
<g transform="translate(959.5,1203) rotate(-8)"><text class="s" font-size="50" x="0" y="17" font-weight="400">☆</text></g>
</g>
<g class="ttl" text-anchor="middle">
<text transform="translate(0,75.6) scale(0.84,1)" font-size="32.2" x="268.1 302.4 336.8 370.2 402.3 431.0 457.6">宝玉獣の切り札</text>
<text transform="translate(0,74.4) scale(0.752,1)" font-size="30" x="938.7 967.0 993.9 1018.0 1046.3 1075.9 1107.2 1131.2 1158.1 1187.9">サファイアコーリング</text>
</g>
</svg>
<p class="v" style="left:501.3px;top:116.5px;letter-spacing:0.3px;">お前からは鉄の意志も</p>
<p class="v" style="left:473.3px;top:197px;letter-spacing:0.25px;">鋼の強さも感じられない</p>
<p class="v" style="left:592.2px;top:114.3px;letter-spacing:0.05px;">サファイアペガサス</p>
<p class="v" style="left:504.2px;top:468px;">俺は、</p>
<p class="v" style="left:480.4px;top:483px;letter-spacing:0.35px;">俺とサファイアペガサスで</p>
<p class="v" style="left:454.6px;top:507px;letter-spacing:0.55px;">オーバーレイネットワークを</p>
<p class="v" style="left:433.2px;top:721px;">構築！</p>
<p class="h" style="left:621.2px;top:666.2px;transform:scale(0.762,1.1);">サファイアコーリング！</p>
<p class="v" style="left:490px;top:824.1px;">エクーズ召喚！！</p>
<p class="v" style="left:500px;top:1278px;">宝玉獣</p>
<p class="v" style="left:468.2px;top:1325.8px;">電光千鳥！！</p>
<p class="h" style="left:590.3px;top:1454px;transform:scaleX(0.808);">コバルトイーグル</p>
</div>
</body>
</html>
